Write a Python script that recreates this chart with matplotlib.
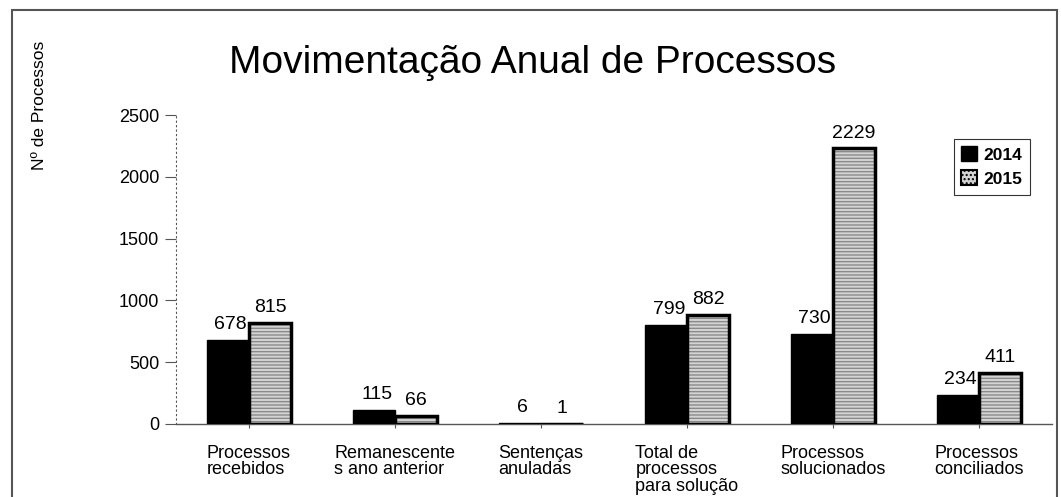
import matplotlib
matplotlib.use("Agg")
import matplotlib.pyplot as plt
from matplotlib.patches import Rectangle, Patch
import numpy as np

plt.rcParams['font.family'] = ['Liberation Sans', 'DejaVu Sans']

categories = ["Processos\nrecebidos", "Remanescente\ns ano anterior", "Sentenças\nanuladas",
              "Total de\nprocessos\npara solução", "Processos\nsolucionados", "Processos\nconciliados"]
v2014 = [678, 115, 6, 799, 730, 234]
v2015 = [815, 66, 1, 882, 2229, 411]
series_names = ["2014", "2015"]
yticks = [0, 500, 1000, 1500, 2000, 2500]

W, H = 1061, 497
fig = plt.figure(figsize=(W / 100, H / 100), dpi=100)
# axes: x from 176 to 1052 px, y from 424 (0) to 115 (2500)
ax = fig.add_axes([176 / W, 1 - 424 / H, (1052 - 176) / W, (424 - 115) / H])

x = np.arange(len(categories))
bw = 0.29
ax.bar(x - bw / 2, v2014, bw, color='black', edgecolor='black', linewidth=1, zorder=3)
ax.bar(x + bw / 2, v2015, bw, color='#d4d4d4', edgecolor='#8a8a8a', hatch='-----',
       linewidth=0, zorder=3)
ax.bar(x + bw / 2, v2015, bw, facecolor='none', edgecolor='black', linewidth=2.5, zorder=4)

for xi, v in zip(x, v2014):
    ax.text(xi - bw / 2 + 0.02, v + 55, str(v), ha='center', va='bottom', fontsize=14)
for xi, v in zip(x, v2015):
    ax.text(xi + bw / 2, v + 55, str(v), ha='center', va='bottom', fontsize=14)

ax.set_xlim(-0.5, len(categories) - 0.5)
ax.set_ylim(0, 2500)
ax.set_yticks(yticks)
ax.set_yticklabels([str(t) for t in yticks], fontsize=13)
ax.set_xticks(x)
ax.set_xticklabels(categories, fontsize=13, linespacing=0.95, multialignment='left')
ax.tick_params(axis='x', length=3, width=0.8, direction='out', pad=12, color='#555555')
ax.tick_params(axis='y', length=8, width=0.8, direction='out', pad=4, color='#555555')
for s in ['top', 'right']:
    ax.spines[s].set_visible(False)
ax.spines['left'].set_linestyle((0, (1, 3)))
ax.spines['left'].set_color('#555555')
ax.spines['bottom'].set_color('#555555')
ax.spines['bottom'].set_linewidth(1.0)

fig.text(533 / W, 1 - 63 / H, "Movimentação Anual de Processos", ha='center', va='center', fontsize=28)
fig.text(40 / W, 1 - 105 / H, "Nº de Processos", ha='center', va='center', rotation=90, fontsize=12.5)

# legend
h1 = Patch(facecolor='black', edgecolor='black')
h2 = Patch(facecolor='#d4d4d4', edgecolor='black', linewidth=1.5, hatch='....')
leg = fig.legend([h1, h2], series_names, loc='upper left',
                 bbox_to_anchor=(945 / W, 1 - 130 / H), frameon=True,
                 fancybox=False, edgecolor='black', handlelength=0.9, handleheight=0.9,
                 handletextpad=0.35, borderpad=0.45, labelspacing=0.45,
                 prop={'weight': 'bold', 'size': 12.5})
leg.get_frame().set_linewidth(0.8)

# outer frame
fig.add_artist(Rectangle((12 / W, -0.1), (1057 - 12) / W, 1.1 - 10 / H, transform=fig.transFigure,
                         fill=False, edgecolor='#555555', linewidth=1.5))

fig.savefig("out.png", dpi=100)
